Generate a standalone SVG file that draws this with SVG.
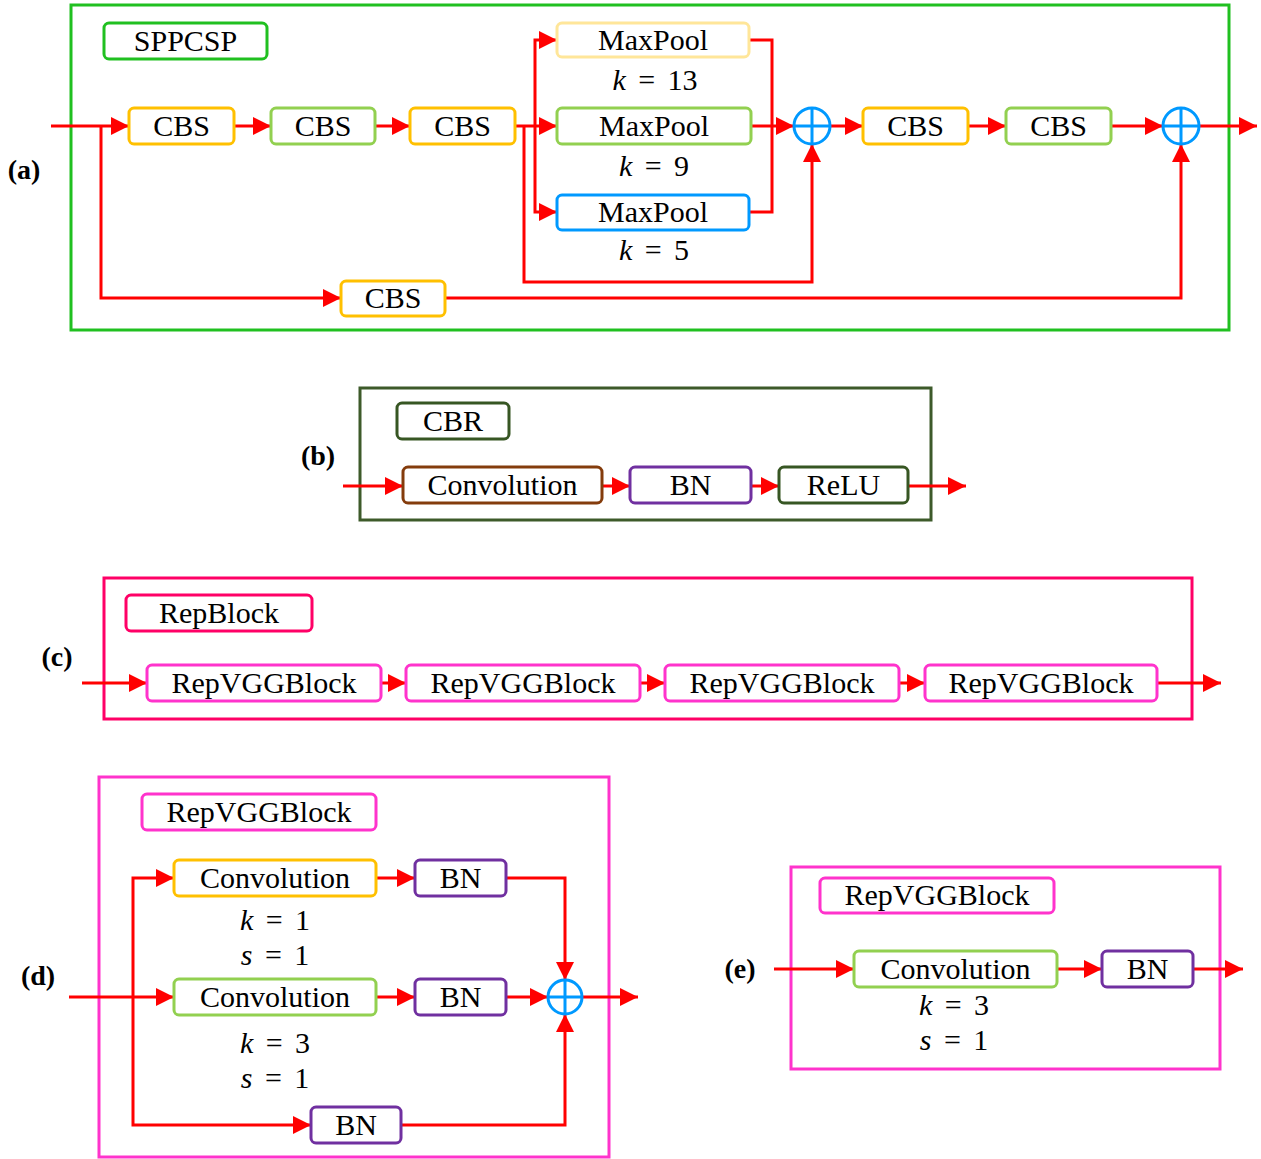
<svg xmlns="http://www.w3.org/2000/svg" width="1261" height="1159" viewBox="0 0 1261 1159">
<defs>
<style>
.t{font-family:"Liberation Serif","Times New Roman",serif;font-size:30px;fill:#000;text-anchor:middle}
.lab{font-family:"Liberation Serif","Times New Roman",serif;font-size:28px;font-weight:bold;fill:#000;text-anchor:middle}
.m{font-family:"Liberation Serif","Times New Roman",serif;font-size:30px;fill:#000;text-anchor:middle;word-spacing:5px}
.b{fill:#fff;stroke-width:3}
.frame{fill:none;stroke-width:3}
.c{fill:none;stroke:#ff0000;stroke-width:3}
.a{marker-end:url(#ah)}
.sum{fill:#fff;stroke:#0099ff;stroke-width:3}
</style>
<marker id="ah" markerWidth="18" markerHeight="18" refX="18" refY="9" orient="auto" markerUnits="userSpaceOnUse"><path d="M0,0 L18,9 L0,18 z" fill="#ff0000"/></marker>
</defs>
<rect width="1261" height="1159" fill="#fff"/>

<g id="frames">
<rect class="frame" x="71" y="5" width="1158" height="325" stroke="#20c020"/>
<rect class="frame" x="360" y="388" width="571" height="132" stroke="#3d5a2a"/>
<rect class="frame" x="104" y="578" width="1088" height="141" stroke="#ff0066"/>
<rect class="frame" x="99" y="777" width="510" height="380" stroke="#ff33cc"/>
<rect class="frame" x="791" y="867" width="429" height="202" stroke="#ff33cc"/>
</g>

<g id="labels">
<text class="lab" x="24" y="179">(a)</text>
<text class="lab" x="318" y="465">(b)</text>
<text class="lab" x="57" y="666">(c)</text>
<text class="lab" x="38" y="985">(d)</text>
<text class="lab" x="740" y="978">(e)</text>
</g>

<g id="connectors">
<path class="c a" d="M51,126 H129"/>
<path class="c a" d="M101,126 V298 H341"/>
<path class="c a" d="M234,126 H271"/>
<path class="c a" d="M375,126 H410"/>
<path class="c a" d="M515,126 H557"/>
<path class="c a" d="M535,126 V40 H557"/>
<path class="c a" d="M535,126 V212 H557"/>
<path class="c a" d="M524,126 V282 H812 V144"/>
<path class="c" d="M749,40 H772 V212 H749"/>
<path class="c a" d="M751,126 H794"/>
<path class="c a" d="M830,126 H863"/>
<path class="c a" d="M968,126 H1006"/>
<path class="c a" d="M1111,126 H1163"/>
<path class="c a" d="M1199,126 H1257"/>
<path class="c a" d="M445,298 H1181 V144"/>
<path class="c a" d="M343,486 H403"/>
<path class="c a" d="M602,486 H630"/>
<path class="c a" d="M751,486 H779"/>
<path class="c a" d="M908,486 H966"/>
<path class="c a" d="M82,683 H147"/>
<path class="c a" d="M381,683 H406"/>
<path class="c a" d="M640,683 H665"/>
<path class="c a" d="M899,683 H925"/>
<path class="c a" d="M1157,683 H1221"/>
<path class="c a" d="M69,997 H174"/>
<path class="c a" d="M133,997 V878 H174"/>
<path class="c a" d="M133,997 V1125 H311"/>
<path class="c a" d="M376,878 H415"/>
<path class="c a" d="M376,997 H415"/>
<path class="c a" d="M506,878 H565 V980"/>
<path class="c a" d="M506,997 H548"/>
<path class="c a" d="M401,1125 H565 V1014"/>
<path class="c a" d="M582,997 H638"/>
<path class="c a" d="M774,969 H854"/>
<path class="c a" d="M1057,969 H1102"/>
<path class="c a" d="M1193,969 H1243"/>
</g>

<g id="sppcsp"><rect class="b" x="104" y="23" width="163" height="36" rx="5" stroke="#20c020"/><text class="t" x="185.5" y="51">SPPCSP</text></g>
<g id="cbs1"><rect class="b" x="129" y="108" width="105" height="36" rx="5" stroke="#ffc000"/><text class="t" x="181.5" y="136">CBS</text></g>
<g id="cbs2"><rect class="b" x="271" y="108" width="104" height="36" rx="5" stroke="#92d050"/><text class="t" x="323" y="136">CBS</text></g>
<g id="cbs3"><rect class="b" x="410" y="108" width="105" height="36" rx="5" stroke="#ffc000"/><text class="t" x="462.5" y="136">CBS</text></g>
<g id="maxpool13"><rect class="b" x="557" y="23" width="192" height="34" rx="5" stroke="#ffe699"/><text class="t" x="653" y="50">MaxPool</text><text class="m" x="655" y="90"><tspan font-style="italic">k</tspan> = 13</text></g>
<g id="maxpool9"><rect class="b" x="557" y="108" width="194" height="36" rx="5" stroke="#92d050"/><text class="t" x="654" y="136">MaxPool</text><text class="m" x="654" y="176"><tspan font-style="italic">k</tspan> = 9</text></g>
<g id="maxpool5"><rect class="b" x="557" y="195" width="192" height="35" rx="5" stroke="#0099ff"/><text class="t" x="653" y="222">MaxPool</text><text class="m" x="654" y="260"><tspan font-style="italic">k</tspan> = 5</text></g>
<g id="sum1"><circle class="sum" cx="812" cy="126" r="18"/><path d="M794,126 H830 M812,108 V144" stroke="#0099ff" stroke-width="3"/></g>
<g id="cbs4"><rect class="b" x="863" y="108" width="105" height="36" rx="5" stroke="#ffc000"/><text class="t" x="915.5" y="136">CBS</text></g>
<g id="cbs5"><rect class="b" x="1006" y="108" width="105" height="36" rx="5" stroke="#92d050"/><text class="t" x="1058.5" y="136">CBS</text></g>
<g id="sum2"><circle class="sum" cx="1181" cy="126" r="18"/><path d="M1163,126 H1199 M1181,108 V144" stroke="#0099ff" stroke-width="3"/></g>
<g id="cbs6"><rect class="b" x="341" y="281" width="104" height="35" rx="5" stroke="#ffc000"/><text class="t" x="393" y="308">CBS</text></g>

<g id="cbr"><rect class="b" x="397" y="403" width="112" height="36" rx="5" stroke="#375623"/><text class="t" x="453" y="431">CBR</text></g>
<g id="convb"><rect class="b" x="403" y="467" width="199" height="36" rx="5" stroke="#843c0c"/><text class="t" x="502.5" y="495">Convolution</text></g>
<g id="bnb"><rect class="b" x="630" y="467" width="121" height="36" rx="5" stroke="#7030a0"/><text class="t" x="690.5" y="495">BN</text></g>
<g id="relu"><rect class="b" x="779" y="467" width="129" height="36" rx="5" stroke="#375623"/><text class="t" x="843.5" y="495">ReLU</text></g>

<g id="repblock"><rect class="b" x="126" y="595" width="186" height="36" rx="5" stroke="#ff0066"/><text class="t" x="219" y="623">RepBlock</text></g>
<g id="rvgg1"><rect class="b" x="147" y="665" width="234" height="36" rx="5" stroke="#ff33cc"/><text class="t" x="264" y="693">RepVGGBlock</text></g>
<g id="rvgg2"><rect class="b" x="406" y="665" width="234" height="36" rx="5" stroke="#ff33cc"/><text class="t" x="523" y="693">RepVGGBlock</text></g>
<g id="rvgg3"><rect class="b" x="665" y="665" width="234" height="36" rx="5" stroke="#ff33cc"/><text class="t" x="782" y="693">RepVGGBlock</text></g>
<g id="rvgg4"><rect class="b" x="925" y="665" width="232" height="36" rx="5" stroke="#ff33cc"/><text class="t" x="1041" y="693">RepVGGBlock</text></g>

<g id="rvggd"><rect class="b" x="142" y="794" width="234" height="36" rx="5" stroke="#ff33cc"/><text class="t" x="259" y="822">RepVGGBlock</text></g>
<g id="convd1"><rect class="b" x="174" y="860" width="202" height="36" rx="5" stroke="#ffc000"/><text class="t" x="275" y="888">Convolution</text><text class="m" x="275" y="930"><tspan font-style="italic">k</tspan> = 1</text><text class="m" x="275" y="965"><tspan font-style="italic">s</tspan> = 1</text></g>
<g id="bnd1"><rect class="b" x="415" y="860" width="91" height="36" rx="5" stroke="#7030a0"/><text class="t" x="460.5" y="888">BN</text></g>
<g id="convd2"><rect class="b" x="174" y="979" width="202" height="36" rx="5" stroke="#92d050"/><text class="t" x="275" y="1007">Convolution</text><text class="m" x="275" y="1053"><tspan font-style="italic">k</tspan> = 3</text><text class="m" x="275" y="1088"><tspan font-style="italic">s</tspan> = 1</text></g>
<g id="bnd2"><rect class="b" x="415" y="979" width="91" height="36" rx="5" stroke="#7030a0"/><text class="t" x="460.5" y="1007">BN</text></g>
<g id="bnd3"><rect class="b" x="311" y="1107" width="90" height="36" rx="5" stroke="#7030a0"/><text class="t" x="356" y="1135">BN</text></g>
<g id="sumd"><circle class="sum" cx="565" cy="997" r="17"/><path d="M548,997 H582 M565,980 V1014" stroke="#0099ff" stroke-width="3"/></g>

<g id="rvgge"><rect class="b" x="820" y="878" width="234" height="35" rx="5" stroke="#ff33cc"/><text class="t" x="937" y="905">RepVGGBlock</text></g>
<g id="conve"><rect class="b" x="854" y="951" width="203" height="36" rx="5" stroke="#92d050"/><text class="t" x="955.5" y="979">Convolution</text><text class="m" x="954" y="1015"><tspan font-style="italic">k</tspan> = 3</text><text class="m" x="954" y="1050"><tspan font-style="italic">s</tspan> = 1</text></g>
<g id="bne"><rect class="b" x="1102" y="951" width="91" height="36" rx="5" stroke="#7030a0"/><text class="t" x="1147.5" y="979">BN</text></g>
</svg>
